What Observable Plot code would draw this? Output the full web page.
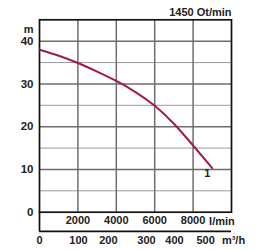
<!DOCTYPE html>
<html><head><meta charset="utf-8">
<script src="https://cdn.jsdelivr.net/npm/d3@7"></script>
<script src="https://cdn.jsdelivr.net/npm/@observablehq/plot@0.6"></script>
<style>
html,body{margin:0;padding:0;background:#fff;}
#chart svg{display:block;}
</style>
</head><body><div id="chart"></div>
<script>
// Pump curve: flow (l/min) vs head (m)
const flowLmin = [0, 1000, 2000, 3000, 4000, 5000, 6000, 7000, 8000, 9000];
const headM    = [38.0, 36.6, 34.9, 32.9, 30.7, 28.1, 24.9, 20.7, 15.6, 10.3];
const curveLabel = "1";
const speedLabel = "1450 Ot/min";
const yTicks = [0, 10, 20, 30, 40];
const yGridMajor = [10, 20, 30, 40];
const yGridMinor = [5, 15, 25, 35];
const lminTicks = [2000, 4000, 6000, 8000];
const lminUnit = "l/min";
// m³/h labels, located (as printed) at these l/min equivalents
const m3hLabels = ["0", "100", "200", "300", "400", "500"];
const m3hAtLmin = [0, 2030, 3590, 5570, 7030, 8650];
const m3hUnit = "m³/h";
const yUnit = "m";

const curve = flowLmin.map((x, i) => ({x, y: headM[i]}));
const m3h = m3hLabels.map((t, i) => ({t, x: m3hAtLmin[i]}));
const xMax = 10000, yMax = 45, yLow = -4.5;

const font = "Liberation Sans, Arial, sans-serif";
const txt = {fontSize: 11, fontWeight: "bold", fill: "#222"};
const chart = Plot.plot({
  width: 270, height: 250,
  marginLeft: 39, marginRight: 39, marginTop: 19.3, marginBottom: 38.3,
  x: {domain: [0, xMax], axis: null},
  y: {domain: [0, yMax], axis: null},
  style: {fontFamily: font, fontSize: "11px", color: "#1a1a1a", background: "#fff"},
  marks: [
    Plot.ruleY(yGridMinor, {stroke: "#9a9a9a", strokeWidth: 1}),
    Plot.ruleY(yGridMajor, {stroke: "#6e6e6e", strokeWidth: 1.5}),
    Plot.ruleX(lminTicks, {stroke: "#6e6e6e", strokeWidth: 1.5}),
    Plot.frame({stroke: "#111", strokeWidth: 1.7}),
    Plot.ruleX([{x: 0, y1: yLow, y2: 0}], {x: "x", y1: "y1", y2: "y2", stroke: "#111", strokeWidth: 1.7}),
    Plot.ruleY([{y: yLow, x1: 0, x2: xMax}], {y: "y", x1: "x1", x2: "x2", stroke: "#111", strokeWidth: 1.7}),
    Plot.axisY({ticks: yTicks, tickSize: 0, tickPadding: 6, label: null, tickFormat: d => String(d), ...txt, fontSize: 11.5}),
    Plot.text([yUnit], {x: 0, y: yTicks[yTicks.length - 1], text: d => d, dy: -12, dx: -6, textAnchor: "end", ...txt}),
    Plot.axisX({ticks: lminTicks, tickSize: 0, tickPadding: 4, label: null, tickFormat: d => String(d), ...txt}),
    Plot.text([lminUnit], {x: lminTicks[lminTicks.length - 1], y: 0, text: d => d, dx: 16, dy: 9, textAnchor: "start", ...txt}),
    Plot.text(m3h, {x: "x", y: yLow, text: "t", dy: 9, ...txt}),
    Plot.text([m3hUnit], {x: xMax, y: yLow, text: d => d, dx: 2, dy: 9, ...txt}),
    Plot.text([speedLabel], {x: xMax, y: yMax, text: d => d, dy: -7, textAnchor: "end", ...txt}),
    Plot.line(curve, {x: "x", y: "y", curve: "natural", stroke: "#a11c3e", strokeWidth: 2}),
    Plot.text([curve[curve.length - 1]], {x: "x", y: "y", text: () => curveLabel, dx: -5, dy: 5, ...txt})
  ]
});
document.getElementById("chart").append(chart);
</script>
</body></html>
